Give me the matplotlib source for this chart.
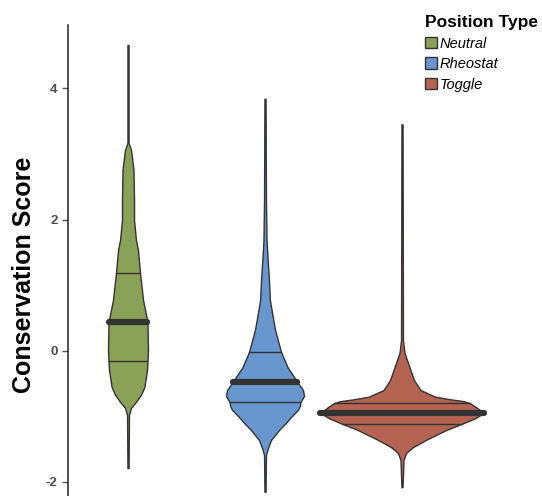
import matplotlib
matplotlib.use("Agg")
import matplotlib.pyplot as plt
from matplotlib.patches import Patch
import numpy as np

plt.rcParams['font.family'] = ['Liberation Sans', 'DejaVu Sans']
plt.rcParams['axes.unicode_minus'] = False

# position types and colours
groups = ["Neutral", "Rheostat", "Toggle"]
colors = ["#8AA158", "#6797CE", "#B56451"]

# violin outlines: score level -> half width (x units)
neutral_y = [4.66, 3.17, 3.06, 2.76, 2.30, 1.99, 1.69, 1.53, 1.18, 0.77, 0.44,
             0.01, -0.29, -0.55, -0.67, -0.78, -0.87, -0.98, -1.79]
neutral_w = [0.004, 0.004, 0.022, 0.040, 0.044, 0.044, 0.058, 0.073, 0.088, 0.110, 0.142,
             0.146, 0.139, 0.120, 0.095, 0.058, 0.022, 0.007, 0.004]

rheo_y = [3.84, 2.30, 1.69, 1.43, 1.08, 0.77, 0.67, 0.32, -0.02, -0.25, -0.48, -0.60,
          -0.69, -0.78, -0.84, -0.90, -1.01, -1.10, -1.21, -1.36, -1.48, -1.59, -2.15]
rheo_w = [0.004, 0.007, 0.011, 0.018, 0.029, 0.036, 0.044, 0.073, 0.117, 0.164, 0.237, 0.277,
          0.285, 0.259, 0.255, 0.241, 0.190, 0.153, 0.102, 0.044, 0.022, 0.007, 0.004]

toggle_y = [3.45, 0.16, -0.03, -0.19, -0.45, -0.60, -0.70, -0.74, -0.77, -0.80, -0.86,
            -0.95, -1.03, -1.10, -1.21, -1.36, -1.47, -1.56, -1.67, -2.08]
toggle_w = [0.004, 0.007, 0.018, 0.044, 0.088, 0.135, 0.241, 0.350, 0.453, 0.496, 0.540,
            0.595, 0.533, 0.453, 0.321, 0.175, 0.080, 0.029, 0.011, 0.004]

# quartiles (Q1, median, Q3)
quartiles = [(-0.16, 0.44, 1.19), (-0.78, -0.48, -0.02), (-1.11, -0.95, -0.80)]

profiles = [(neutral_y, neutral_w), (rheo_y, rheo_w), (toggle_y, toggle_w)]

fig = plt.figure(figsize=(5.42, 4.96), dpi=100)
ax = fig.add_axes([68 / 542, 0, 1 - 68 / 542, 1 - 25 / 496])

edge = "#333333"
for i, ((ys, ws), col, q) in enumerate(zip(profiles, colors, quartiles)):
    pos = i + 1
    ys = np.array(ys)
    ws = np.array(ws)
    ax.fill_betweenx(ys, pos - ws, pos + ws, facecolor=col, edgecolor=edge, linewidth=1.0, zorder=2)
    order = np.argsort(ys)
    for k, val in enumerate(q):
        hw = np.interp(val, ys[order], ws[order])
        if k == 1:
            ax.plot([pos - hw, pos + hw], [val, val], color=edge, lw=4.5,
                    solid_capstyle='round', zorder=3)
        else:
            ax.plot([pos - hw, pos + hw], [val, val], color=edge, lw=1.0, zorder=3)

ax.set_xlim(0.562, 0.562 + 474 / 137)
ax.set_ylim(-2.215, 4.965)
ax.set_yticks([-2, 0, 2, 4])
ax.set_xticks([])
for s in ["top", "right", "bottom"]:
    ax.spines[s].set_visible(False)
ax.spines["left"].set_color("#222222")
ax.spines["left"].set_linewidth(1.1)
ax.tick_params(axis='y', colors="#555555", length=4, width=1, labelsize=9.5)
for lab in ax.get_yticklabels():
    lab.set_fontweight("bold")
    lab.set_color("#4D4D4D")
ax.set_ylabel("Conservation Score", fontsize=18, fontweight="bold")
ax.yaxis.set_label_coords(-32 / 474, (496 - 275) / 471)

handles = [Patch(facecolor=c, edgecolor=edge, linewidth=1.0, label=g) for g, c in zip(groups, colors)]
leg = fig.legend(handles=handles, loc="upper left", bbox_to_anchor=(425 / 542, 1 - 15 / 496),
                 title="Position Type", frameon=False, handlelength=0.8, handleheight=0.8,
                 handletextpad=0.2, labelspacing=0.45, borderaxespad=0, borderpad=0,
                 alignment="left", prop={"style": "italic", "size": 10.5},
                 title_fontproperties={"weight": "bold", "size": 12.5})

fig.savefig("out.png", dpi=100)
